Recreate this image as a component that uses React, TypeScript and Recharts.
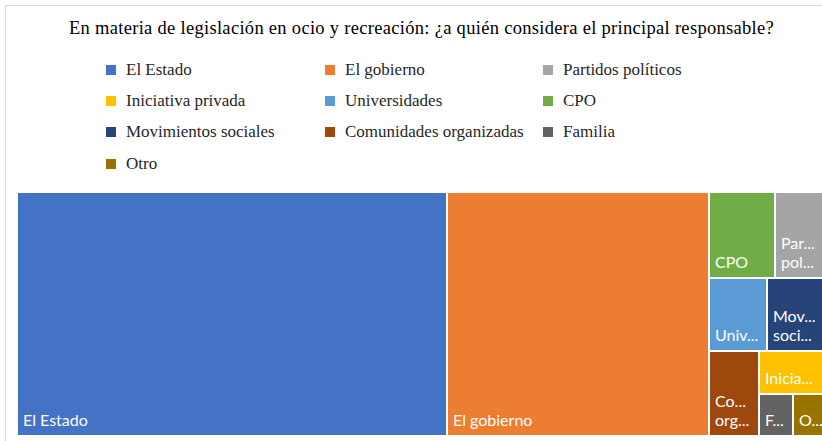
import { Treemap } from "recharts"

const title = "En materia de legislación en ocio y recreación: ¿a quién considera el principal responsable?"

const categories = [
  "El Estado",
  "El gobierno",
  "Partidos políticos",
  "Iniciativa privada",
  "Universidades",
  "CPO",
  "Movimientos sociales",
  "Comunidades organizadas",
  "Familia",
  "Otro",
]
const values = [74, 45, 3, 2, 3, 4, 3, 3, 1, 1]
const COLORS = ["#4472C4", "#ED7D31", "#A5A5A5", "#FFC000", "#5B9BD5", "#70AD47", "#264478", "#9E480E", "#636363", "#997300"]

// treemap lays out largest first, ties keep legend order
const data = categories
  .map((name, i) => ({ name, size: values[i], color: COLORS[i] }))
  .sort((a, b) => b.size - a.size)

const LABEL_FONT = "16px Lato"
let ctx: CanvasRenderingContext2D | null = null
const measure = (s: string) => {
  if (!ctx) ctx = document.createElement("canvas").getContext("2d")
  if (!ctx) return s.length * 8
  ctx.font = LABEL_FONT
  return ctx.measureText(s).width
}

// shorten with "...", but always keep at least one letter
const fit = (word: string, avail: number) => {
  if (measure(word) <= avail) return word
  for (let n = word.length - 1; n > 1; n--) {
    const s = word.slice(0, n) + "..."
    if (measure(s) <= avail) return s
  }
  return word.slice(0, 1) + "..."
}

const labelLines = (name: string, width: number, height: number) => {
  const avail = width - 14.5
  if (measure(name) <= avail) return [name]
  const words = name.split(" ")
  const maxLines = Math.max(1, Math.floor((height - 24) / 18))
  const lines = words.slice(0, maxLines)
  if (words.length > maxLines) lines[maxLines - 1] = words.slice(maxLines - 1).join(" ")
  return lines.map((l) => fit(l, avail))
}

const renderCell = (props: any) => {
  const { x, y, width, height, depth, name, color } = props
  if (depth !== 1) return <g />
  const lines = labelLines(name, width, height)
  const bottom = y + height - 10
  return (
    <g>
      <rect x={x} y={y} width={width} height={height} fill={color} stroke="#fff" strokeWidth={2} />
      {lines.map((l, i) => (
        <text
          key={i}
          x={x + 6}
          y={bottom - (lines.length - 1 - i) * 19.5}
          fill="#fff"
          fontSize={16}
          fontFamily="Lato, sans-serif"
        >
          {l}
        </text>
      ))}
    </g>
  )
}

const legendCols = [106, 325, 543]
const legendRows = [70, 101, 132, 164]

export default function App() {
  return (
    <div style={{ position: "absolute", left: 0, top: 0, width: 822, height: 441, overflow: "hidden", background: "#fff" }}>
      <div
        style={{
          position: "absolute",
          left: 5,
          top: 5,
          width: 840,
          height: 460,
          border: "1px solid #d9d9d9",
          boxSizing: "border-box",
        }}
      />
      <div
        style={{
          position: "absolute",
          left: 0,
          width: 843,
          top: 16,
          textAlign: "center",
          fontFamily: "'Liberation Serif', serif",
          fontSize: 18.5,
          letterSpacing: 0.3,
          color: "#000",
          lineHeight: "24px",
          whiteSpace: "nowrap",
        }}
      >
        {title}
      </div>
      {categories.map((c, i) => {
        const left = legendCols[i % 3]
        const cy = legendRows[Math.floor(i / 3)]
        return (
          <div key={c} style={{ position: "absolute", left, top: cy - 12, height: 24, display: "flex", alignItems: "center" }}>
            <div style={{ width: 10, height: 10, background: COLORS[i], marginRight: 10 }} />
            <span style={{ fontFamily: "'Liberation Serif', serif", fontSize: 17, color: "#262626", whiteSpace: "nowrap" }}>{c}</span>
          </div>
        )
      })}
      <div style={{ position: "absolute", left: 17, top: 192 }}>
        <Treemap
          width={808}
          height={244}
          data={data}
          dataKey="size"
          nameKey="name"
          aspectRatio={1}
          isAnimationActive={false}
          content={renderCell}
        />
      </div>
    </div>
  )
}
